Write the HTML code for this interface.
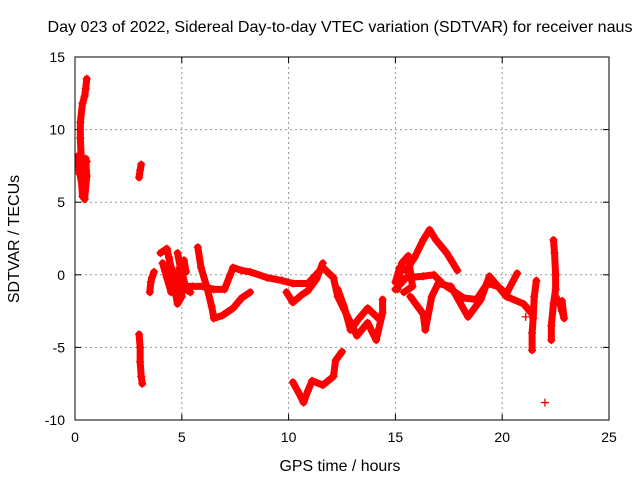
<!DOCTYPE html>
<html><head><meta charset="utf-8"><style>
body{margin:0;background:#fff;}
svg{display:block;font-family:"Liberation Sans",sans-serif;}
</style></head><body>
<svg id="chart" width="640" height="480">
<text x="340" y="32" font-size="16" text-anchor="middle" textLength="585" lengthAdjust="spacingAndGlyphs">Day 023 of 2022, Sidereal Day-to-day VTEC variation (SDTVAR) for receiver naus</text>
<text x="340" y="471" font-size="16" text-anchor="middle" textLength="121" lengthAdjust="spacingAndGlyphs">GPS time / hours</text>
<text transform="translate(19,239) rotate(-90)" font-size="16" text-anchor="middle">SDTVAR / TECUs</text>
<g id="grid"></g><g id="marks"></g>
<rect x="75" y="57" width="534" height="363" fill="none" stroke="#000" stroke-width="1"/>
</svg>
<script>
const xTicks=[0,5,10,15,20,25];
const yTicks=[-10,-5,0,5,10,15];
const trackA=[[0.2,7],[0.25,8],[0.3,6.5],[0.35,5.4],[0.3,7.8],[0.25,9.4],[0.25,10.5],[0.35,11.8],[0.45,12.3],[0.5,12.8],[0.55,13.5]];
const trackA2=[[0.4,7.5],[0.5,8],[0.55,6.8],[0.45,5.2],[0.2,7.2],[0.15,8.2],[0.55,7.8]];
const trackB=[[3.0,6.7],[3.05,7.2],[3.1,7.6]];
const trackC=[[3.0,-4.1],[3.05,-5],[3.05,-6],[3.1,-7],[3.15,-7.5]];
const trackD=[[3.5,-1.2],[3.55,-0.5],[3.6,-0.2],[3.7,0.2]];
const track1=[[4.0,1.5],[4.3,1.8],[4.5,0.5],[4.8,-0.5],[5.0,-0.8],[5.5,-0.8],[6.0,-0.8],[6.5,-1.0],[7.0,-1.0],[7.4,0.5],[7.8,0.3],[8.2,0.2],[9.0,-0.2],[9.7,-0.4],[10.2,-0.6],[10.9,-0.6],[11.6,0.5],[12.1,-0.2],[12.3,-1.5],[12.9,-3.3],[13.2,-4.2],[13.7,-3.3],[14.1,-4.5],[14.4,-2.6],[14.4,-1.7]];
const track2=[[4.4,1.2],[4.6,-0.5],[4.8,-2],[5.0,-1.5],[5.0,0],[4.8,1.5],[5.2,-1.0],[5.4,-1.2]];
const track2b=[[4.1,0.8],[4.3,-0.2],[4.5,-1.2],[4.7,-0.8],[4.9,0.5],[5.1,1.0],[5.2,0.2]];
const track3=[[5.75,1.9],[5.9,0.5],[6.2,-1.0],[6.4,-2.2],[6.5,-3],[6.9,-2.8],[7.4,-2.3],[7.8,-1.6],[8.2,-1.2]];
const track4=[[9.9,-1.2],[10.2,-1.9],[10.6,-1.4],[10.9,-1.1],[11.3,-0.3],[11.6,0.8]];
const track5=[[12.3,-1.0],[12.6,-2.2],[12.9,-3.8],[13.3,-3.0],[13.7,-2.3],[14.2,-3.0]];
const track6=[[10.2,-7.4],[10.5,-8.2],[10.7,-8.8],[10.9,-8.0],[11.1,-7.3],[11.6,-7.6],[12.1,-7.0],[12.2,-5.9],[12.5,-5.3]];
const track7=[[15.0,-0.5],[15.2,0.5],[15.5,0.3],[15.9,1.2],[16.3,2.4],[16.6,3.1],[16.9,2.4],[17.4,1.5],[17.9,0.3]];
const track7b=[[15.1,-1.0],[15.3,0.8],[15.6,1.3],[15.8,-0.8],[15.4,-1.2]];
const track8=[[15.0,-1],[15.5,-0.2],[16.3,-0.1],[16.8,0],[17.2,-0.6],[17.7,-1.1],[18.2,-1.6],[18.8,-1.7],[19.3,-0.6],[19.8,-0.8],[20.2,-1.3],[20.7,0.1]];
const track9=[[15.7,-1.5],[16.3,-2.7],[16.4,-3.8],[16.7,-1.5],[17.0,-0.6],[17.6,-0.8],[18.4,-2.9],[19.0,-1.7],[19.4,-0.1],[20.2,-1.5],[21.0,-2.0],[21.4,-2.7]];
const track10=[[21.6,-0.4],[21.5,-1.5],[21.45,-3],[21.4,-4],[21.4,-5.2]];
const track11=[[22.4,2.4],[22.45,1.5],[22.5,0],[22.5,-1],[22.4,-2],[22.3,-3.5],[22.3,-4.5]];
const track12=[[22.5,-1.5],[22.7,-2],[22.8,-2.5],[22.9,-3],[22.8,-1.8]];
const singles=[[22.0,-8.8],[21.1,-2.9]];
const tracks=[trackA,trackA2,trackB,trackC,trackD,track1,track2,track2b,track3,track4,track5,track6,track7,track7b,track8,track9,track10,track11,track12];
const X0=75,X1=609,Y0=420,Y1=57;
function sx(h){return X0+(h-0)/(25-0)*(X1-X0);}
function sy(v){return Y0-(v+10)/(25)*(Y0-Y1);}
const NS='http://www.w3.org/2000/svg';
const grid=document.getElementById('grid'),marks=document.getElementById('marks');
function mk(t,a,p){const e=document.createElementNS(NS,t);for(const k in a)e.setAttribute(k,a[k]);p.appendChild(e);return e;}
xTicks.forEach(t=>{const x=sx(t);
 if(t>0&&t<25){const g=mk('line',{x1:x,x2:x,y1:Y1,y2:Y0,stroke:'#999','stroke-dasharray':'2,3'},grid);
 
 }
 mk('line',{x1:x,x2:x,y1:Y0,y2:Y0-6,stroke:'#000'},grid);mk('line',{x1:x,x2:x,y1:Y1,y2:Y1+6,stroke:'#000'},grid);
 const l=mk('text',{x:x,y:Y0+22,'font-size':14,'text-anchor':'middle'},grid);l.textContent=t;
 
 });
yTicks.forEach(t=>{const y=sy(t);
 if(t>-10&&t<15){const g=mk('line',{x1:X0,x2:X1,y1:y,y2:y,stroke:'#999','stroke-dasharray':'2,3'},grid);
 
 }
 mk('line',{x1:X0,x2:X0+6,y1:y,y2:y,stroke:'#000'},grid);mk('line',{x1:X1,x2:X1-6,y1:y,y2:y,stroke:'#000'},grid);
 const l=mk('text',{x:X0-10,y:y+5,'font-size':14,'text-anchor':'end'},grid);l.textContent=t;
 
 });
function plus(h,v){const x=sx(h),y=sy(v);
 const p=mk('path',{d:`M${x-4} ${y}H${x+4}M${x} ${y-4}V${y+4}`,stroke:'#f00','stroke-width':1.3},marks);
 
 }
tracks.forEach(tr=>{
 const pl=mk('polyline',{points:tr.map(p=>sx(p[0])+','+sy(p[1])).join(' '),fill:'none',stroke:'#f00','stroke-width':7,'stroke-linejoin':'round','stroke-linecap':'round'},marks);
 
 
 tr.forEach(p=>plus(p[0],p[1]));});
singles.forEach(p=>plus(p[0],p[1]));
</script>
</body></html>
